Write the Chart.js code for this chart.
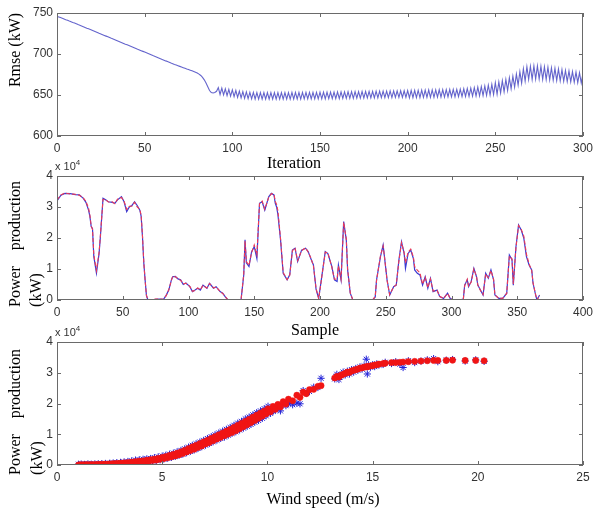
<!DOCTYPE html>
<html>
<head>
<meta charset="utf-8">
<title>Rmse and power production</title>
<script src="https://cdn.jsdelivr.net/npm/chart.js@4.4.1/dist/chart.umd.min.js"></script>
<style>
  html, body { margin: 0; padding: 0; background: #fff; }
  #page { position: relative; width: 593px; height: 512px; overflow: hidden; background: #fff; }
  canvas { position: absolute; left: 0; }
  .t { position: absolute; font: 16px "Liberation Serif", "Times New Roman", serif; color: #000;
       white-space: nowrap; transform: translate(-50%, -50%); }
  .v { transform: translate(-50%, -50%) rotate(-90deg); }
  .pp { width: 126px; text-align: justify; text-align-last: justify; }
  .exp { position: absolute; font: 11px "Liberation Sans", Arial, sans-serif; color: #333; white-space: nowrap; }
  .exp sup { font-size: 8px; vertical-align: 5px; }
</style>
</head>
<body>
<div id="page">
  <canvas id="rmseChart" width="593" height="165" style="top:0"></canvas>
  <canvas id="seriesChart" width="593" height="175" style="top:150px"></canvas>
  <canvas id="curveChart" width="593" height="185" style="top:315px"></canvas>

  <div class="t v" style="left:15px;top:50px">Rmse (kW)</div>
  <div class="t" style="left:294px;top:163px">Iteration</div>

  <div class="exp" style="left:55px;top:158px">x 10<sup>4</sup></div>
  <div class="t v pp" style="left:15px;top:244px">Power production</div>
  <div class="t v" style="left:36px;top:290px">(kW)</div>
  <div class="t" style="left:315px;top:330px">Sample</div>

  <div class="exp" style="left:55px;top:324px">x 10<sup>4</sup></div>
  <div class="t v pp" style="left:15px;top:412px">Power production</div>
  <div class="t v" style="left:37px;top:458px">(kW)</div>
  <div class="t" style="left:323px;top:499px">Wind speed (m/s)</div>
</div>

<script>
// ---- top panel: training rmse per iteration (0..300) ----
var rmse = [
  746.0,745.2,744.4,743.6,742.8,741.9,741.1,740.2,739.4,738.5,
  737.7,736.8,735.9,735.1,734.2,733.3,732.4,731.5,730.7,729.8,
  728.9,728.0,727.1,726.2,725.3,724.5,723.6,722.7,721.8,720.9,
  720.0,719.1,718.3,717.4,716.5,715.6,714.7,713.8,712.9,712.0,
  711.2,710.3,709.4,708.5,707.6,706.7,705.8,705.0,704.1,703.2,
  702.3,701.4,700.5,699.6,698.7,697.8,697.0,696.1,695.2,694.3,
  693.4,692.5,691.6,690.8,689.9,689.0,688.2,687.3,686.5,685.7,
  684.9,684.1,683.3,682.5,681.7,681.0,680.3,679.5,678.7,677.8,
  676.8,675.5,673.8,671.5,668.5,664.5,660.0,655.5,653.0,652.5,
  653.0,654.5,659.0,650.6,658.3,650.0,657.6,649.3,656.9,648.6,
  656.2,648.0,655.5,647.0,654.7,646.4,654.1,645.9,653.7,645.5,
  653.3,645.2,653.1,645.1,653.0,645.0,653.0,645.0,652.9,644.9,
  652.9,644.9,652.9,644.9,652.9,644.9,653.0,645.0,653.0,645.0,
  653.0,645.0,653.0,645.0,653.1,645.1,653.1,645.1,653.1,645.1,
  653.2,645.2,653.2,645.2,653.2,645.2,653.3,645.3,653.3,645.3,
  653.4,645.4,653.4,645.4,653.5,645.5,653.5,645.6,653.6,645.6,
  653.7,645.7,653.8,645.8,653.9,645.9,654.0,646.0,654.0,646.0,
  654.1,646.1,654.2,646.2,654.3,646.3,654.4,646.4,654.4,646.4,
  654.5,646.5,654.6,646.6,654.7,646.7,654.8,646.8,654.8,646.8,
  654.9,646.9,655.0,647.0,655.1,647.1,655.2,647.2,655.2,647.2,
  655.5,646.6,655.6,646.7,655.7,646.8,655.8,646.9,655.9,647.0,
  656.0,647.0,656.1,647.1,656.2,647.2,656.3,647.3,656.4,647.4,
  656.5,647.5,656.6,647.6,656.7,647.7,656.8,647.8,656.9,647.9,
  657.0,648.0,657.5,648.2,658.0,648.4,658.5,648.6,659.0,648.8,
  659.6,649.0,660.3,649.3,661.0,649.6,662.0,650.0,663.0,650.5,
  665.0,651.0,666.0,652.5,667.5,654.0,669.0,655.5,671.0,657.5,
  673.0,659.5,675.5,662.0,678.5,664.5,682.0,667.0,684.5,669.0,
  685.0,669.0,685.5,669.5,685.5,669.5,685.0,669.0,684.5,668.8,
  684.0,668.5,683.2,668.0,682.5,667.6,681.8,667.2,681.0,666.8,
  680.0,666.5,679.3,666.0,678.6,665.5,677.9,665.0,677.2,664.5,
  676.5
];

// ---- middle panel: measured vs predicted power per sample (kW) ----
var samples = [
  0,3,6,10,14,17,20,22,24,25, 26,27,28,30,32,33,35,37,39,42,
  44,46,49,51,53,55,57,59,61,63, 64,65,66,67,68,69,72,75,78,81,
  83,85,87,88,90,92,94,96,98,101, 103,105,107,109,111,114,116,119,121,124,
  126,128,130,135,140,142,143,144,146,148, 150,152,154,156,158,161,163,165,166,167,
  168,170,172,175,177,179,181,183,186,189, 191,193,195,197,199,201,204,206,209,211,
  213,214,216,218,220,221,223,225,230,235, 240,242,243,246,248,249,251,253,256,258,
  260,262,264,265,267,269,271,272,274,276, 278,280,282,284,286,289,291,294,297,299,
  302,306,309,310,312,313,315,317,319,320, 322,324,326,328,330,332,333,336,339,342,
  344,346,347,349,351,353,355,357,359,361, 362,364,365,367
];
var measured = [
  32000,33800,34400,34300,34000,33900,32800,31500,29000,27000,
  23700,23000,14000,8700,15000,20400,32800,32300,31700,31500,
  31200,32300,33300,31700,28500,30000,30500,31700,30500,29000,
  27000,20400,12000,6500,1500,200,0,200,300,200,
  1500,3200,6500,7500,7600,6800,6500,5000,5500,4300,
  2700,3200,3800,3200,4800,3800,5400,3800,4300,2700,
  2200,1000,0,0,200,8000,19400,12000,10800,15600,
  17200,13400,31200,31700,29000,33300,34400,33900,31200,30000,
  27500,19400,8600,6500,8100,16100,16700,12400,16100,16700,
  15600,13400,11300,3500,500,6500,15600,15000,10800,6500,
  6000,11300,6500,25300,19400,9700,2200,0,0,0,
  0,1000,6500,14000,17700,14000,6500,1600,4300,4800,
  12900,18800,15000,10200,15000,16100,13400,9700,8600,8100,
  4800,7500,3800,7000,2700,3200,1100,500,2200,500,
  0,0,300,4800,6500,4300,6000,10200,7500,4800,
  3200,1600,8600,7000,9700,6500,1600,500,500,2200,
  14500,13000,4800,17100,24200,22600,19900,14000,11300,9700,
  5400,1600,0,1600
];
var predicted = [
  32300,33900,34500,34200,34100,33800,32900,31800,29600,27400,
  23900,22800,14600,9500,15400,20800,32500,32400,31600,31700,
  31100,32500,33100,31900,29200,30200,30300,31500,30000,29200,
  27300,20800,12300,6300,1600,200,0,300,300,200,
  1400,3300,6300,7700,7500,6900,6400,5200,5400,4400,
  2800,3100,3900,3300,4700,3900,5300,3900,4200,2800,
  2100,1100,0,0,200,8300,19000,12400,11200,15300,
  17800,14600,31000,31900,29300,33100,34300,34100,31800,30800,
  28800,19800,8900,6600,8000,15800,16900,12700,15900,16800,
  15500,13600,11000,3700,500,6300,15400,15200,10600,6700,
  6800,11000,6700,25000,19700,10000,2300,0,0,0,
  0,1100,6300,14300,17400,14200,6300,1700,4200,4900,
  12600,18500,15300,12000,15400,16400,13900,10800,9600,8800,
  5100,7300,4000,6800,2900,3100,1200,500,2100,600,
  0,0,300,4600,6700,4500,5800,10000,7700,4900,
  3100,1700,8400,7200,9500,6700,1700,500,600,2100,
  14200,13300,5200,16800,24000,22800,20600,14800,11600,9500,
  5600,1700,0,1500
];

// ---- bottom panel: power curve, wind speed (m/s) vs power (kW) ----
var windSpeed = [
  1.02,1.08,1.15,1.23,1.31,1.40,1.47,1.55,1.63,1.71,
  1.80,1.88,1.96,2.05,2.13,2.22,2.30,2.41,2.50,2.58,
  2.67,2.75,2.84,2.93,3.02,3.10,3.19,3.28,3.37,3.46,
  3.55,3.64,3.73,3.82,3.91,4.00,4.09,4.18,4.27,4.36,
  4.45,4.54,4.63,4.72,4.81,4.90,5.00,5.08,5.17,5.26,
  5.35,5.44,5.53,5.62,5.71,5.80,5.89,5.98,6.07,6.16,
  6.25,6.34,6.43,6.52,6.61,6.70,6.79,6.88,6.97,7.06,
  7.15,7.24,7.33,7.42,7.51,7.60,7.69,7.78,7.87,7.96,
  8.05,8.14,8.23,8.32,8.41,8.50,8.59,8.68,8.77,8.86,
  8.95,9.04,9.13,9.22,9.31,9.40,9.49,9.58,9.67,9.76,
  9.85,9.94,10.03,10.15,10.27,10.38,10.50,10.62,10.75,10.88,
  11.00,11.20,11.40,11.55,11.70,11.85,12.00,12.20,12.40,12.55,
  13.2,13.3,13.4,13.5,13.6,13.7,13.8,13.9,14.0,14.1,
  14.2,14.3,14.4,14.5,14.6,14.7,14.75,14.8,14.9,15.0,
  15.1,15.2,15.3,15.5,15.6,15.9,16.1,16.3,16.45,16.7,
  17.0,17.3,17.6,17.9,18.1,18.5,18.8,19.4,19.9,20.3
];
var curvePredicted = [
  0,60,20,80,30,100,40,70,90,60,
  140,80,190,120,240,160,280,210,350,270,
  420,330,500,400,600,460,700,560,820,640,
  960,760,1120,880,1260,1000,1380,1150,1560,1280,
  1750,1460,1950,1600,2180,1850,2450,2100,2750,2350,
  3100,2650,3450,2950,3850,3300,4300,3750,4800,4250,
  5350,4700,5900,5150,6400,5700,6950,6200,7500,6850,
  8050,7300,8650,7900,9200,8450,9800,9000,10400,9550,
  11000,10050,11600,10600,12250,11150,12900,11800,13550,12450,
  14200,13100,14850,13800,15550,14500,16200,15200,16900,15900,
  17550,16600,18300,17300,19050,18100,19700,18900,20600,19800,
  21400,20900,22700,22000,23700,23200,24500,24600,25600,25800,
  28300,28800,28600,29200,29500,29800,30200,30100,30600,30800,
  31000,31200,31500,31600,31800,32000,31900,32100,32200,32300,
  32500,32600,32800,33000,33100,33300,33300,33400,33500,33600,
  33700,33800,33900,34000,34000,34000,34100,34000,34000,33900
];
var curveMeasured = [
  250,0,300,50,200,0,350,100,250,0,
  350,50,400,100,450,150,500,200,550,250,
  650,200,750,300,850,350,1000,450,1150,550,
  1350,600,1600,750,1700,1000,1850,1000,2000,1100,
  2100,1300,2400,1450,2650,1700,2900,1950,3150,2250,
  3500,2500,3850,2800,4300,3200,4750,3550,5250,4000,
  5800,4450,6400,4900,6900,5400,7450,5950,8000,6450,
  8600,7000,9200,7550,9800,8100,10400,8650,11000,9100,
  11600,9700,12200,10300,12900,10800,13600,11400,14200,12000,
  15000,12600,15600,13200,16300,13900,17000,14500,17600,15200,
  18300,16000,19100,16800,17500,17900,18500,17600,19900,19300,
  20000,19600,20100,19900,24200,23300,23900,25300,25200,28200,
  28000,29500,27800,29000,30200,29300,30500,29600,31000,30200,
  31400,30800,31900,31200,32200,34400,29600,32300,31800,32600,
  32000,32900,32500,32700,33400,33000,33600,32800,31700,33900,
  33300,33800,34200,34600,33600,34100,34300,33800,34200,33700
];

var BOX = "#6a6a6a", TICK_TXT = "#333";
var TICK_LEN = 4;

function pairs(xs, ys) {
  return ys.map(function (y, i) { return { x: xs[i], y: y }; });
}
function perTenThousand(v) { return String(v / 10000); }

// axis box with inward tick marks on all four sides
var frame = {
  id: "frame",
  afterDatasetsDraw: function (chart) {
    var a = chart.chartArea, ctx = chart.ctx, xs = chart.scales.x, ys = chart.scales.y;
    ctx.save();
    ctx.strokeStyle = BOX;
    ctx.lineWidth = 1;
    ctx.beginPath();
    xs.ticks.forEach(function (t) {
      var px = Math.round(xs.getPixelForValue(t.value)) + 0.5;
      ctx.moveTo(px, a.bottom); ctx.lineTo(px, a.bottom - TICK_LEN);
      ctx.moveTo(px, a.top); ctx.lineTo(px, a.top + TICK_LEN);
    });
    ys.ticks.forEach(function (t) {
      var py = Math.round(ys.getPixelForValue(t.value)) + 0.5;
      ctx.moveTo(a.left, py); ctx.lineTo(a.left + TICK_LEN, py);
      ctx.moveTo(a.right, py); ctx.lineTo(a.right - TICK_LEN, py);
    });
    ctx.stroke();
    ctx.strokeRect(Math.round(a.left) + 0.5, Math.round(a.top) + 0.5,
      Math.round(a.width) - 1, Math.round(a.height) - 1);
    ctx.restore();
  }
};

function axis(min, max, step, size, horizontal, fmt) {
  var o = {
    type: "linear", min: min, max: max,
    grid: { display: false, drawTicks: false },
    border: { display: false },
    ticks: {
      stepSize: step, padding: horizontal ? 5 : 4, color: TICK_TXT, autoSkip: false, maxRotation: 0,
      font: { family: "Liberation Sans", size: 12 }
    },
    // fixed box size so every panel's plot area lines up; end labels may overhang
    afterFit: function (s) {
      if (horizontal) { s.height = size; s.paddingLeft = 0; s.paddingRight = 0; }
      else { s.width = size; s.paddingTop = 0; s.paddingBottom = 0; }
    }
  };
  if (fmt) o.ticks.callback = fmt;
  return o;
}

function panel(id, type, padTop, xAxis, yAxis, datasets) {
  return new Chart(document.getElementById(id), {
    type: type,
    data: { datasets: datasets },
    options: {
      responsive: false, animation: false, devicePixelRatio: 1,
      layout: { padding: { top: padTop, right: 10, left: 0, bottom: 0 } },
      plugins: { legend: { display: false }, tooltip: { enabled: false } },
      scales: { x: xAxis, y: yAxis }
    },
    plugins: [frame]
  });
}

panel("rmseChart", "line", 13,
  axis(0, 300, 50, 29, true),
  axis(600, 750, 50, 57, false),
  [{
    data: rmse.map(function (v, i) { return { x: i, y: v }; }),
    borderColor: "#6464cc", borderWidth: 1.1, pointRadius: 0, tension: 0
  }]);

// predicted drawn over measured (lower order = on top)
panel("seriesChart", "line", 26,
  axis(0, 400, 50, 25, true),
  axis(0, 40000, 10000, 57, false, perTenThousand),
  [{
    data: pairs(samples, measured), order: 1,
    borderColor: "#3a3ad2", borderWidth: 1.2, pointRadius: 0, tension: 0
  }, {
    data: pairs(samples, predicted), order: 0,
    borderColor: "#ee3a55", borderWidth: 1.1, borderDash: [4, 2], pointRadius: 0, tension: 0
  }]);

panel("curveChart", "scatter", 27,
  axis(0, 25, 5, 35, true),
  axis(0, 40000, 10000, 57, false, perTenThousand),
  [{
    data: pairs(windSpeed, curveMeasured), order: 1,
    pointStyle: "star", pointRadius: 3.6, borderColor: "#2222d8", backgroundColor: "#2222d8", borderWidth: 1
  }, {
    data: pairs(windSpeed, curvePredicted), order: 0,
    pointStyle: "circle", pointRadius: 3.1, borderColor: "#f01414", backgroundColor: "#f01414", borderWidth: 0.5
  }]);
</script>
</body>
</html>
